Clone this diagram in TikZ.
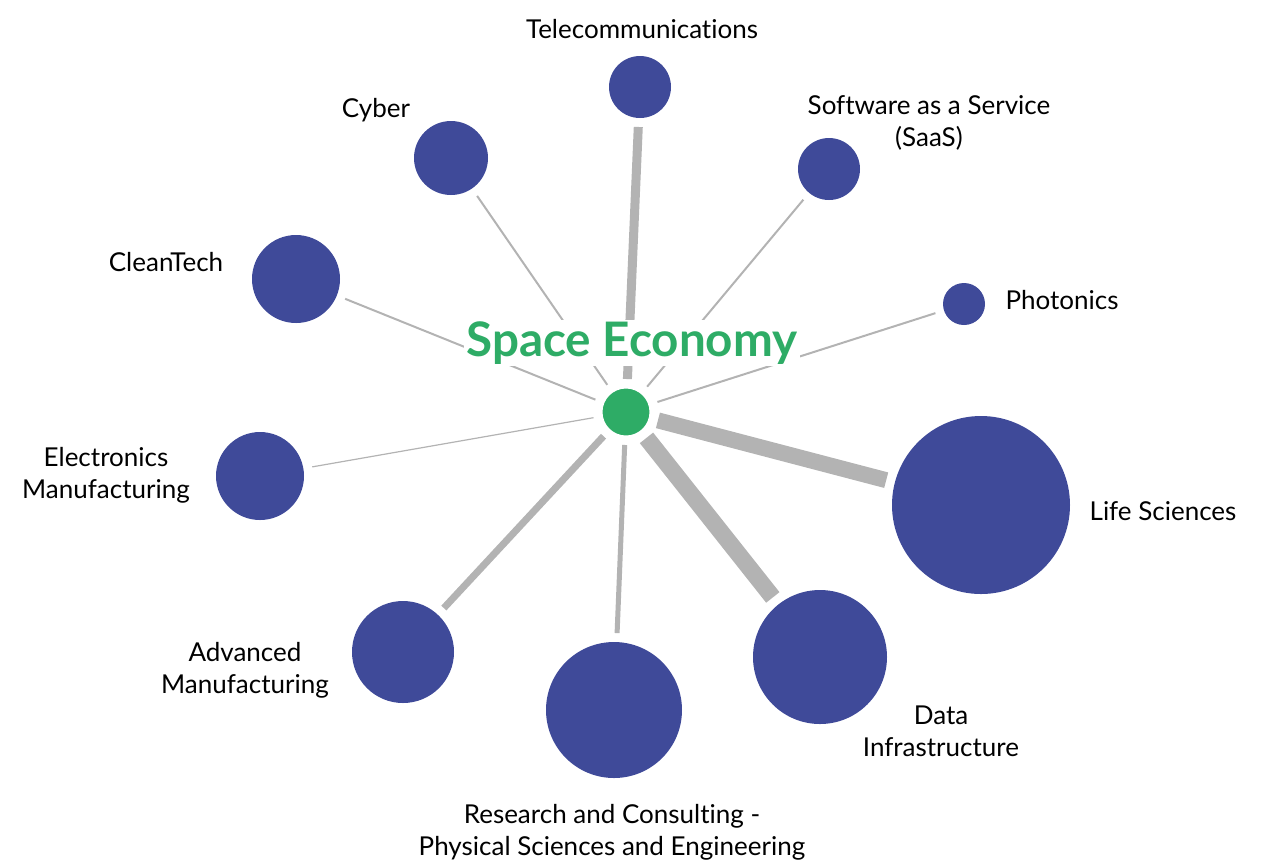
\documentclass[tikz,border=0pt]{standalone}
\usepackage{fontspec}
\setmainfont{Lato}[Ligatures = NoCommon]
\definecolor{nodeblue}{RGB}{63,74,153}
\definecolor{hubgreen}{RGB}{46,172,102}
\definecolor{edgegray}{RGB}{179,179,179}

\begin{document}
\begin{tikzpicture}[x = .5pt, y = -.5pt,
    sector/.style = {circle, fill = nodeblue, inner sep = 0pt, outer sep = 0pt},
    hub/.style = {circle, fill = hubgreen, draw = white, line width = 1.5pt, inner sep = 0pt, outer sep = 0pt, minimum size = 25pt},
    tag/.style = {align = center, inner sep = 0pt, font = \fontsize{13}{16}\selectfont},
    link/.style = {draw = edgegray, shorten < = 4pt, shorten > = 4.5pt}]
    \useasboundingbox (0, 0) rectangle (1265, 859);
    \node (space) at ( 626, 412) [hub] {};
    \node (tele)  at ( 640,  87) [sector, minimum size = 31pt] {};
    \node (cyber) at ( 451, 158) [sector, minimum size = 37pt] {};
    \node (saas)  at ( 829, 169) [sector, minimum size = 31pt] {};
    \node (phot)  at ( 964, 304) [sector, minimum size = 21pt] {};
    \node (clean) at ( 296, 279) [sector, minimum size = 44pt] {};
    \node (elec)  at ( 260, 476) [sector, minimum size = 44pt] {};
    \node (life)  at ( 981, 505) [sector, minimum size = 89pt] {};
    \node (data)  at ( 820, 657) [sector, minimum size = 67pt] {};
    \node (res)   at ( 614, 710) [sector, minimum size = 68pt] {};
    \node (adv)   at ( 403, 652) [sector, minimum size = 51pt] {};
    % labels
    \node (tele-l)  at ( 642,  29) [tag] {Telecommunications};
    \node (cyber-l) at ( 376, 110) [tag] {Cyber};
    \node (saas-l)  at ( 929, 123) [tag] {Software as a Service\\(SaaS)};
    \node (phot-l)  at (1062, 300) [tag] {Photonics};
    \node (clean-l) at ( 166, 262) [tag] {CleanTech};
    \node (elec-l)  at ( 106, 475) [tag] {Electronics\\Manufacturing};
    \node (life-l)  at (1163, 511) [tag] {Life Sciences};
    \node (data-l)  at ( 941, 731) [tag] {Data\\Infrastructure};
    \node (res-l)   at ( 612, 832) [tag] {Research and Consulting -\\Physical Sciences and Engineering};
    \node (adv-l)   at ( 245, 670) [tag] {Advanced\\Manufacturing};
    % links
    \draw [link, line width = 4.5pt] (space) -- (tele);
    \draw [link, line width = 1pt]   (space) -- (cyber);
    \draw [link, line width = 1pt]   (space) -- (saas);
    \draw [link, line width = 1pt]   (space) -- (phot);
    \draw [link, line width = 1pt]   (space) -- (clean);
    \draw [link, line width = .6pt]  (space) -- (elec);
    \draw [link, line width = 8pt]   (space) -- (life);
    \draw [link, line width = 8.5pt] (space) -- (data);
    \draw [link, line width = 2.5pt] (space) -- (res);
    \draw [link, line width = 3.5pt] (space) -- (adv);
    \node (title) at ( 632, 343) [fill = white, inner sep = 1pt, text = hubgreen,
      font = \fontsize{23.8}{28}\selectfont\bfseries] {Space Economy};
  \end{tikzpicture}
\end{document}
